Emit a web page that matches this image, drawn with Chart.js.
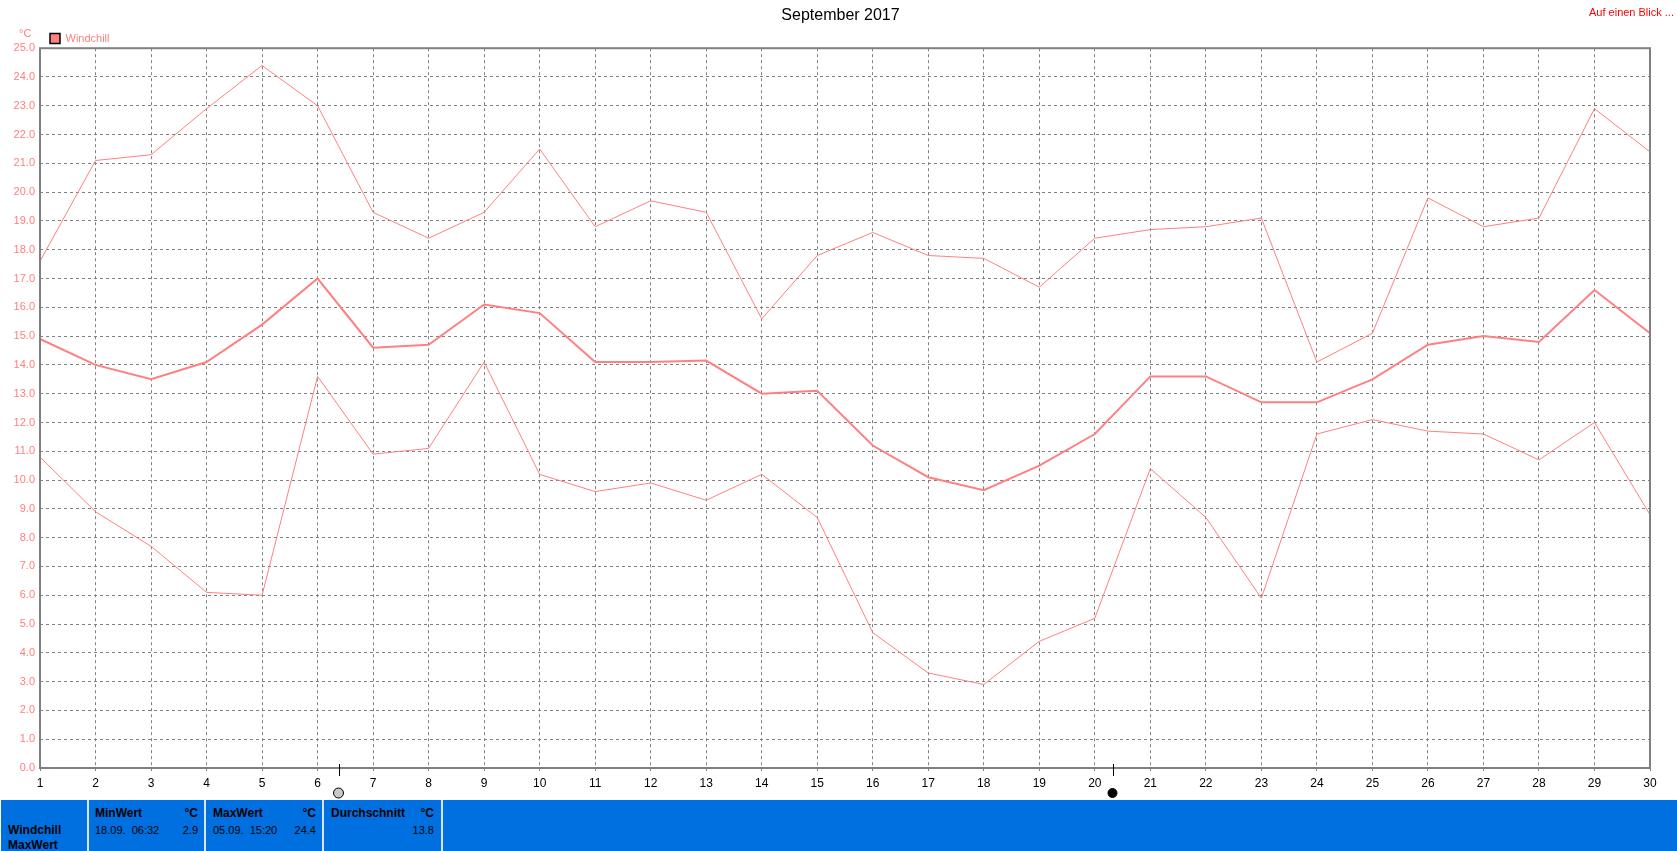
<!DOCTYPE html>
<html><head><meta charset="utf-8">
<style>
html,body{margin:0;padding:0;background:#fff;width:1677px;height:851px;overflow:hidden}
#wrap{position:relative;width:1677px;height:851px}
canvas{position:absolute;left:0;top:0}
.t{position:absolute;font:12px "Liberation Sans",Arial,sans-serif;line-height:14px;white-space:pre;color:#000}
.s{font-size:11px}
.b{font-weight:bold}
.r{text-align:right}
#panel{position:absolute;left:1px;top:800px;width:1676px;height:51px;background:#0070e0;overflow:hidden}
.sep{position:absolute;top:800px;width:2px;height:51px;background:#d8e4f0}
</style></head><body><div id="wrap"><canvas id="c" width="1677" height="851"></canvas><div id="panel"></div></div>
<script src="https://cdn.jsdelivr.net/npm/chart.js@4"></script>
<script>
const days=["1","2","3","4","5","6","7","8","9","10","11","12","13","14","15","16","17","18","19","20","21","22","23","24","25","26","27","28","29","30"];
const maxValues=[17.6,21.1,21.3,22.9,24.4,23.0,19.3,18.4,19.3,21.5,18.8,19.7,19.3,15.6,17.8,18.6,17.8,17.7,16.7,18.4,18.7,18.8,19.1,14.1,15.1,19.8,18.8,19.1,22.9,21.4];
const avgValues=[14.9,14.0,13.5,14.1,15.4,17.0,14.6,14.7,16.1,15.8,14.1,14.1,14.15,13.0,13.1,11.2,10.1,9.65,10.5,11.6,13.6,13.6,12.7,12.7,13.5,14.7,15.0,14.8,16.6,15.1];
const minValues=[10.8,8.9,7.7,6.1,6.0,13.6,10.9,11.1,14.1,10.2,9.6,9.9,9.3,10.2,8.7,4.7,3.3,2.9,4.4,5.2,10.4,8.7,5.9,11.6,12.1,11.7,11.6,10.7,12.0,8.8];
const moonDays=[6.39,20.32];
const moonFills=["#c8c8c8","#000000"];
const PINK="#ff8080",GRAY="#808080",FONT='"Liberation Sans",Arial,sans-serif';
const DASH=[3,3];

const framePlugin={id:"frame",
 afterLayout(ch){
  const l=ch.legend,t=ch.titleBlock;
  if(l){l.left=45;l.top=28;}
  if(t){t.left+=15.5;t.right+=15.5;t.top=6;}
 },
 afterDatasetsDraw(ch){
  const {ctx,chartArea:a,scales:{x}}=ch;
  ctx.save();
  ctx.strokeStyle=GRAY;ctx.lineWidth=2;
  ctx.strokeRect(a.left,a.top,a.right-a.left,a.bottom-a.top);
  moonDays.forEach((d,i)=>{
   const px=Math.round(x.getPixelForValue(d-1))+.5;
   ctx.strokeStyle="#000";ctx.lineWidth=1;
   ctx.beginPath();ctx.moveTo(px,a.bottom-4);ctx.lineTo(px,a.bottom+8);ctx.stroke();
   ctx.fillStyle=moonFills[i];
   ctx.beginPath();ctx.arc(px-1,793,i?4.5:5,0,Math.PI*2);ctx.fill();ctx.stroke();
  });
  ctx.restore();
 }};

const line=(label,data,w)=>({label,data,borderColor:PINK,backgroundColor:PINK,borderWidth:w,pointRadius:0,tension:0,fill:false});
new Chart(document.getElementById("c"),{
 type:"line",
 data:{labels:days,datasets:[line("Windchill",avgValues,2),line("Max",maxValues,1),line("Min",minValues,1)]},
 plugins:[framePlugin],
 options:{
  responsive:false,animation:false,events:[],
  layout:{autoPadding:false,padding:{left:0,right:27,top:3,bottom:0}},
  plugins:{
   tooltip:{enabled:false},
   title:{display:true,text:"September 2017",color:"#000",font:{family:FONT,size:16,weight:"normal"},padding:{top:0,bottom:0}},
   legend:{display:true,position:"top",align:"start",fullSize:false,
    labels:{color:PINK,font:{family:FONT,size:11},boxWidth:10,boxHeight:10,padding:5,
     generateLabels:()=>[{text:"Windchill",fillStyle:PINK,strokeStyle:"#000",lineWidth:1.5,fontColor:PINK,datasetIndex:0}]}}
  },
  scales:{
   x:{type:"category",offset:false,
    grid:{color:GRAY,lineWidth:1,drawTicks:true,tickLength:5,tickColor:GRAY,tickBorderDash:DASH},
    border:{display:false,dash:DASH},
    ticks:{color:"#000",font:{family:FONT,size:12},autoSkip:false,maxRotation:0,padding:3},
    afterFit(s){s.height=83;}},
   y:{min:0,max:25,
    grid:{color:GRAY,lineWidth:1,drawTicks:false},
    border:{display:false,dash:DASH},
    ticks:{stepSize:1,color:PINK,font:{family:FONT,size:11},padding:5,callback:v=>v.toFixed(1)},
    afterFit(s){s.width=40;}}
  }
 }
});

const wrap=document.getElementById("wrap");
const addText=(txt,x,y,cls,w,col)=>{
 const d=document.createElement("div");d.className="t "+(cls||"");d.textContent=txt;
 d.style.top=y+"px";
 if(cls&&cls.includes("r")){d.style.left=(x-w)+"px";d.style.width=w+"px";}else d.style.left=x+"px";
 if(col)d.style.color=col;
 wrap.appendChild(d);return d;
};
const seps=[87,204,322,441];
seps.forEach(x=>{const s=document.createElement("div");s.className="sep";s.style.left=x+"px";wrap.appendChild(s);});
addText("°C",19,26,"s",0,PINK);
addText("Auf einen Blick ...",1674,5,"r s",150,"#ff0000");
const headers=["MinWert","MaxWert","Durchschnitt"];
const headerX=[95,213,331];
const rightX=[198,316,434];
const times=["18.09.  06:32","05.09.  15:20",""];
const values=["2.9","24.4","13.8"];
headers.forEach((h,i)=>{
 addText(h,headerX[i],806,"b");
 addText("°C",rightX[i],806,"b r",40);
 if(times[i])addText(times[i],headerX[i],823,"s");
 addText(values[i],rightX[i],823,"r s",50);
});
addText("Windchill",8,823,"b");
addText("MaxWert",8,838,"b");
</script></body></html>
